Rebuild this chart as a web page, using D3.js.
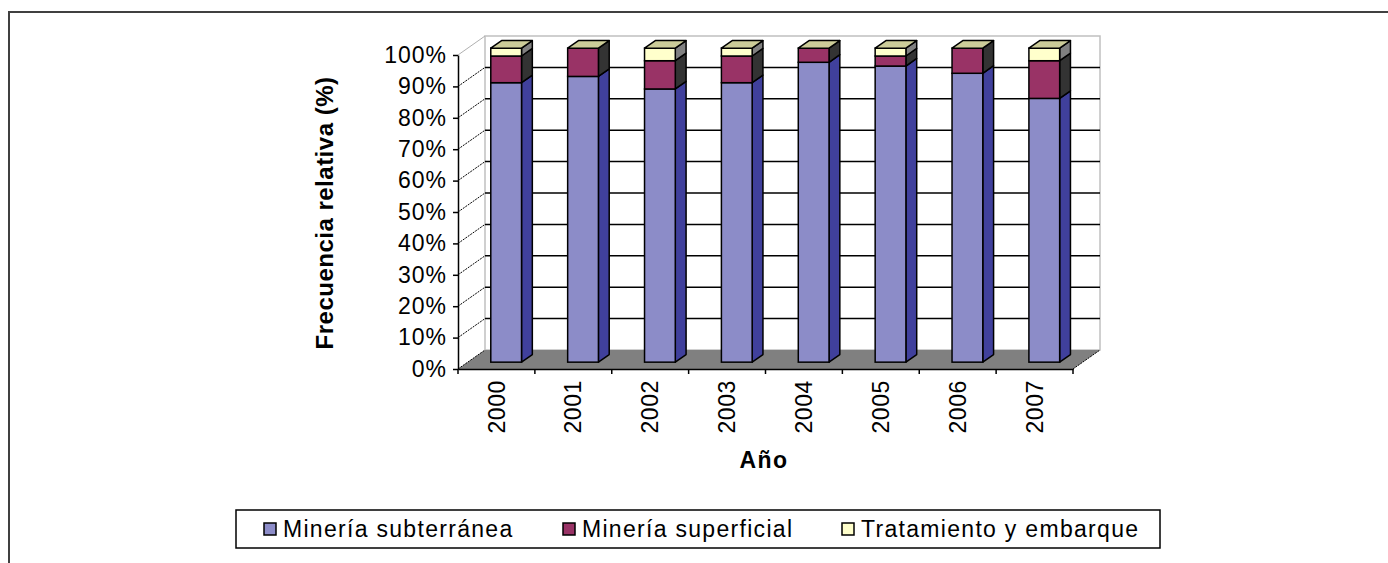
<!DOCTYPE html>
<html>
<head>
<meta charset="utf-8">
<script src="https://cdn.jsdelivr.net/npm/d3@7"></script>
<style>
  body { margin: 0; background: #fff; }
  text { font-family: "Liberation Sans", Arial, sans-serif; fill: #000; }
</style>
</head>
<body>
<div id="chart"></div>
<script>
// data (percent of each year)
var years = ['2000', '2001', '2002', '2003', '2004', '2005', '2006', '2007']
var subterranea = [89, 91, 87, 89, 95.5, 94.3, 92, 84]
var superficial = [8.5, 9, 9, 8.5, 4.5, 3.2, 8, 12]
var tratamiento = [2.5, 0, 4, 2.5, 0, 2.5, 0, 4]
var seriesNames = ['Minería subterránea', 'Minería superficial', 'Tratamiento y embarque']
var yTicks = [0, 10, 20, 30, 40, 50, 60, 70, 80, 90, 100]

var width = 1388, height = 563
var frontLeft = 458, frontRight = 1073, yTop = 55, yBottom = 369
var depthX = 27, depthY = -19
var barFront = 0.36, barBack = 0.76

// face colours: front, side, top
var colors = [
    { front: '#8c8cc8', side: '#40409c', top: '#8c8cc8' },
    { front: '#993366', side: '#333333', top: '#993366' },
    { front: '#ffffcc', side: '#808080', top: '#cccc99' }
]

var svg = d3.select('#chart')
    .append('svg')
    .attr('width', width)
    .attr('height', height)

// outer frame
svg.append('path')
    .attr('d', 'M9,' + height + 'V12H' + width)
    .attr('fill', 'none')
    .attr('stroke', '#404040')
    .attr('stroke-width', 2)

var x = d3.scaleBand().domain(years).range([frontLeft, frontRight])
var y = d3.scaleLinear().domain([0, 100]).range([yBottom, yTop])

function proj(px, py, d) {
    return [px + depthX * d, py + depthY * d]
}
function poly(points) {
    return 'M' + points.map(function(p) { return p[0] + ',' + p[1] }).join('L') + 'Z'
}

// back wall
var backTL = proj(frontLeft, y(100), 1), backBR = proj(frontRight, y(0), 1)
svg.append('rect')
    .attr('x', backTL[0]).attr('y', backTL[1])
    .attr('width', backBR[0] - backTL[0]).attr('height', backBR[1] - backTL[1])
    .attr('fill', '#fff')
    .attr('stroke', '#c0c0c0')
    .attr('stroke-width', 1.5)

// side wall top edge
svg.append('line')
    .attr('x1', frontLeft).attr('y1', y(100))
    .attr('x2', backTL[0]).attr('y2', backTL[1])
    .attr('stroke', '#b0b0b0')

// floor
svg.append('path')
    .attr('d', poly([[frontLeft, y(0)], [frontRight, y(0)], proj(frontRight, y(0), 1), proj(frontLeft, y(0), 1)]))
    .attr('fill', '#808080')

svg.append('line')
    .attr('x1', frontRight).attr('y1', y(0))
    .attr('x2', backBR[0]).attr('y2', backBR[1])
    .attr('stroke', '#000')
    .style('stroke-dasharray', '2,1')

// gridlines on back and side wall
var grid = yTicks.filter(function(d) { return d > 0 && d < 100 })
svg.selectAll('line.grid-back')
    .data(grid)
    .enter().append('line')
    .attr('class', 'grid-back')
    .attr('x1', backTL[0]).attr('x2', backBR[0])
    .attr('y1', function(d) { return y(d) + depthY })
    .attr('y2', function(d) { return y(d) + depthY })
    .attr('stroke', '#000')
    .attr('stroke-width', 1.5)

svg.selectAll('line.grid-side')
    .data(grid.concat([0]))
    .enter().append('line')
    .attr('class', 'grid-side')
    .attr('x1', frontLeft).attr('x2', frontLeft + depthX)
    .attr('y1', function(d) { return y(d) })
    .attr('y2', function(d) { return y(d) + depthY })
    .attr('stroke', '#000')
    .style('stroke-dasharray', '2,1')

// stacked bars
var table = years.map(function(yr, i) {
    return { year: yr, s0: subterranea[i], s1: superficial[i], s2: tratamiento[i] }
})
var stack = d3.stack().keys(['s0', 's1', 's2'])(table)

var bw = x.bandwidth() * 0.4
var bars = svg.append('g').attr('class', 'bars')

years.forEach(function(yr, i) {
    var cx = x(yr) + x.bandwidth() / 2
    var left = cx - bw / 2 + depthX * barFront
    var right = left + bw
    var dd = barBack - barFront
    var g = bars.append('g')

    stack.forEach(function(layer, k) {
        var v0 = layer[i][0], v1 = layer[i][1]
        if (v1 - v0 <= 0) return
        var top = y(v1) + depthY * barFront
        var bottom = y(v0) + depthY * barFront
        // side face
        g.append('path')
            .attr('d', poly([[right, bottom], [right, top], [right + depthX * dd, top + depthY * dd], [right + depthX * dd, bottom + depthY * dd]]))
            .attr('fill', colors[k].side)
            .attr('stroke', '#000')
            .attr('stroke-width', 1.5)
            .attr('stroke-linejoin', 'round')
        // front face
        g.append('rect')
            .attr('x', left).attr('y', top)
            .attr('width', bw).attr('height', bottom - top)
            .attr('fill', colors[k].front)
            .attr('stroke', '#000')
            .attr('stroke-width', 1.5)
    })

    // top face, taken from the last series
    var total = stack[stack.length - 1][i][1]
    var t = y(total) + depthY * barFront
    g.append('path')
        .attr('d', poly([[left, t], [right, t], [right + depthX * dd, t + depthY * dd], [left + depthX * dd, t + depthY * dd]]))
        .attr('fill', colors[2].top)
        .attr('stroke', '#000')
        .attr('stroke-width', 1.5)
        .attr('stroke-linejoin', 'round')
})

// y axis
var yAxis = svg.append('g')
    .attr('transform', 'translate(' + frontLeft + ',0)')
    .call(d3.axisLeft(y).tickValues(yTicks).tickFormat(function(d) { return d + '%' })
        .tickSize(5).tickSizeOuter(0).tickPadding(6))
yAxis.select('.domain').attr('stroke', '#000').attr('stroke-width', 1.5)
yAxis.selectAll('.tick line').attr('stroke', '#000').attr('stroke-width', 1.5)
yAxis.selectAll('.tick text')
    .attr('font-size', 23)
    .attr('font-family', '"Liberation Sans", Arial, sans-serif')
    .style('letter-spacing', '1px')

// x axis: labels at band centres, ticks at band edges
var xAxis = svg.append('g')
    .attr('transform', 'translate(0,' + yBottom + ')')
    .call(d3.axisBottom(x).tickSize(0).tickSizeOuter(0))
xAxis.select('.domain').attr('stroke', '#000').attr('stroke-width', 1.5)
xAxis.selectAll('.tick text')
    .attr('font-size', 23)
    .attr('font-family', '"Liberation Sans", Arial, sans-serif')
    .style('letter-spacing', '0.6px')
    .attr('text-anchor', 'end')
    .attr('transform', 'rotate(-90)')
    .attr('x', -11)
    .attr('y', 0)
    .attr('dy', '0.35em')

var edges = years.map(function(d) { return x(d) }).concat([frontRight])
xAxis.selectAll('line.edge')
    .data(edges)
    .enter().append('line')
    .attr('class', 'edge')
    .attr('x1', function(d) { return d }).attr('x2', function(d) { return d })
    .attr('y1', 0).attr('y2', 5)
    .attr('stroke', '#000')
    .attr('stroke-width', 1.5)

// axis titles
svg.append('text')
    .attr('x', 764).attr('y', 468)
    .attr('text-anchor', 'middle')
    .attr('font-size', 23)
    .attr('font-weight', 'bold')
    .style('letter-spacing', '1.5px')
    .text('Año')

svg.append('text')
    .attr('transform', 'translate(333,213) rotate(-90)')
    .attr('text-anchor', 'middle')
    .attr('font-size', 24)
    .attr('font-weight', 'bold')
    .style('letter-spacing', '0.5px')
    .text('Frecuencia relativa (%)')

// legend
var legend = svg.append('g').attr('class', 'legend')
legend.append('rect')
    .attr('x', 236).attr('y', 510)
    .attr('width', 924).attr('height', 38)
    .attr('fill', '#fff')
    .attr('stroke', '#000')
    .attr('stroke-width', 1.5)

var legendX = [264, 563, 842]
var item = legend.selectAll('g.item')
    .data(seriesNames)
    .enter().append('g')
    .attr('class', 'item')
    .attr('transform', function(d, i) { return 'translate(' + legendX[i] + ',529)' })

item.append('rect')
    .attr('x', 0).attr('y', -6)
    .attr('width', 12).attr('height', 12)
    .attr('fill', function(d, i) { return colors[i].front })
    .attr('stroke', '#000')
    .attr('stroke-width', 1.5)

item.append('text')
    .attr('x', 19).attr('y', 0)
    .attr('dy', '0.36em')
    .attr('font-size', 23)
    .style('letter-spacing', '1.3px')
    .text(function(d) { return d })
</script>
</body>
</html>
